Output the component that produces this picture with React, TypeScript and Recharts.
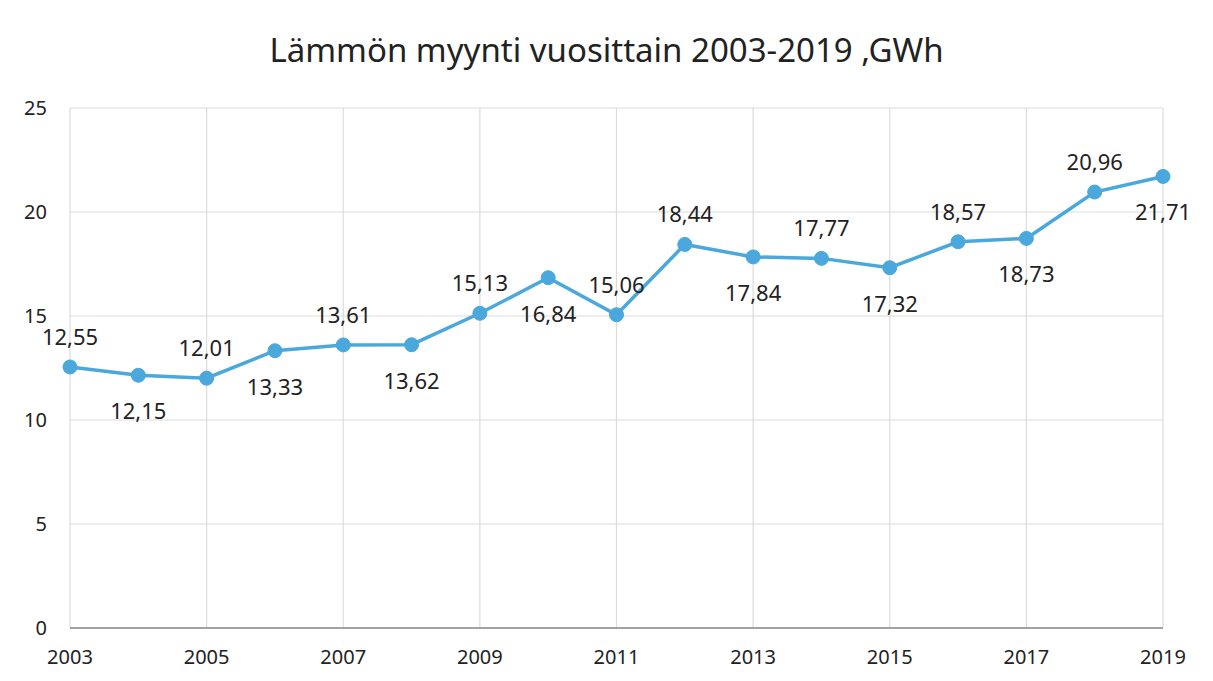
import React from "react";
import { LineChart, Line, XAxis, YAxis, CartesianGrid, LabelList } from "recharts";

const years = [2003, 2004, 2005, 2006, 2007, 2008, 2009, 2010, 2011, 2012, 2013, 2014, 2015, 2016, 2017, 2018, 2019];
const sales = [12.55, 12.15, 12.01, 13.33, 13.61, 13.62, 15.13, 16.84, 15.06, 18.44, 17.84, 17.77, 17.32, 18.57, 18.73, 20.96, 21.71];
const xTicks = [2003, 2005, 2007, 2009, 2011, 2013, 2015, 2017, 2019];
const yTicks = [0, 5, 10, 15, 20, 25];
const labelAbove = [true, false, true, false, true, false, true, false, true, true, false, true, false, true, false, true, false];

const data = years.map((y, i) => ({ year: y, value: sales[i] }));

const FONT = "'Noto Sans', 'Open Sans', sans-serif";
const COLOR = "#4aa8dc";

const fmt = (v: number) => v.toFixed(2).replace(".", ",");

const ValueLabel = (props: any) => {
  const { x, y, value, index } = props;
  const above = labelAbove[index];
  return (
    <text
      x={x}
      y={above ? y - 31 : y + 35}
      textAnchor="middle"
      dominantBaseline="central"
      fontFamily={FONT}
      fontSize={22}
      fill="#222"
    >
      {fmt(value)}
    </text>
  );
};

export default function App() {
  return (
    <div style={{ position: "absolute", left: 0, top: 0, width: 1213, height: 681, background: "#fff" }}>
      <div
        style={{
          position: "absolute",
          left: 0,
          top: 28,
          width: 1213,
          textAlign: "center",
          fontFamily: FONT,
          fontSize: 33,
          color: "#222",
          lineHeight: "44px",
        }}
      >
        Lämmön myynti vuosittain 2003-2019 ,GWh
      </div>
      <LineChart
        width={1213}
        height={681}
        data={data}
        margin={{ top: 108, right: 50, bottom: 23, left: 30 }}
      >
        <CartesianGrid stroke="#dcdcdc" strokeWidth={1.2} />
        <XAxis
          dataKey="year"
          type="number"
          domain={[2003, 2019]}
          ticks={xTicks}
          tickLine={false}
          tickSize={0}
          tickMargin={22}
          axisLine={{ stroke: "#8a8a8a", strokeWidth: 1.5 }}
          tick={{ fontFamily: FONT, fontSize: 20, fill: "#222" }}
          height={30}
          interval={0}
        />
        <YAxis
          domain={[0, 25]}
          ticks={yTicks}
          width={40}
          tickLine={false}
          tickSize={0}
          tickMargin={23}
          axisLine={false}
          tick={{ fontFamily: FONT, fontSize: 20, fill: "#222" }}
        />
        <Line
          type="linear"
          dataKey="value"
          stroke={COLOR}
          strokeWidth={3.5}
          dot={{ r: 7, fill: COLOR, stroke: COLOR, strokeWidth: 1 }}
          isAnimationActive={false}
        >
          <LabelList dataKey="value" content={ValueLabel} />
        </Line>
      </LineChart>
    </div>
  );
}
